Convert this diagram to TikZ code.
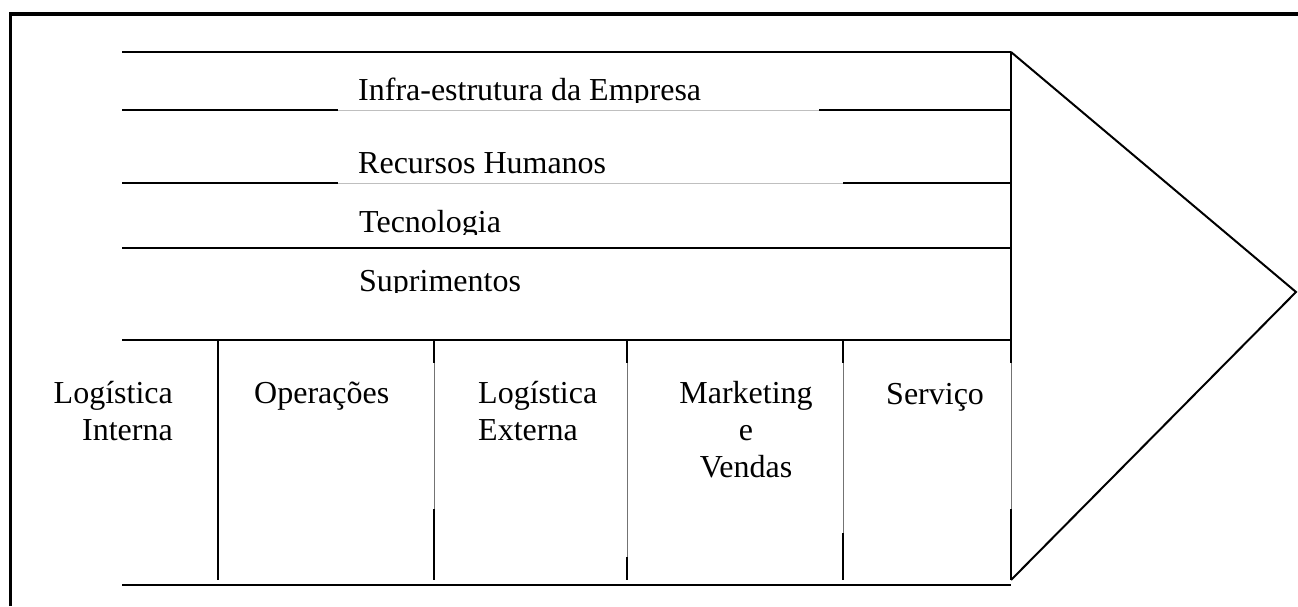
\documentclass[tikz,border=0pt]{standalone}
\usepackage{fontspec}
\setmainfont{Liberation Serif}
\begin{document}
\begin{tikzpicture}[x=1pt,y=-1pt,
  frame/.style={line width=3.5pt,black},
  dark/.style={line width=2pt,black},
  faint/.style={line width=1pt,black!25},
  vfaint/.style={line width=0.9pt,black!55},
  lbl/.style={inner sep=0pt,font=\fontsize{32}{37}\selectfont},
]
\useasboundingbox (0,0) rectangle (1298,606);
% outer frame (top and left visible)
\draw[frame] (10.5,606) -- (10.5,14) -- (1298,14);

% key points
\coordinate (TL) at (122,52);
\coordinate (TR) at (1011,52);
\coordinate (tip) at (1296,292);
\coordinate (BR) at (1011,580);

% horizontal lines
\draw[dark] (TL) -- (TR);
\draw[dark] (122,110) -- (338,110);
\draw[faint] (338,110.5) -- (819,110.5);
\draw[dark] (819,110) -- (1011,110);
\draw[dark] (122,183) -- (338,183);
\draw[faint] (338,183.5) -- (843,183.5);
\draw[dark] (843,183) -- (1011,183);
\draw[dark] (122,248) -- (1011,248);
\draw[dark] (122,340) -- (1011,340);
\draw[dark] (122,585) -- (1011,585);

% arrow head
\draw[dark,line join=miter] (TR) -- (tip) -- (BR);

% right vertical
\draw[dark] (TR) -- (1011,363);
\draw[vfaint] (1011,363) -- (1011,509);
\draw[dark] (1011,509) -- (BR);

% column dividers
\draw[dark] (218,340) -- (218,580);
\draw[dark] (434,340) -- (434,363);
\draw[vfaint] (434,363) -- (434,509);
\draw[dark] (434,509) -- (434,580);
\draw[dark] (627,340) -- (627,363);
\draw[vfaint] (627,363) -- (627,557);
\draw[dark] (627,557) -- (627,580);
\draw[dark] (843,340) -- (843,363);
\draw[vfaint] (843,363) -- (843,533);
\draw[dark] (843,533) -- (843,580);

% support activity labels (clipped just under the baseline)
\begin{scope}
  \clip (300,60) rectangle (900,102);
  \node[lbl,anchor=base west] (infra) at (358,100) {Infra-estrutura da Empresa};
\end{scope}
\begin{scope}
  \clip (300,130) rectangle (900,175);
  \node[lbl,anchor=base west] (rh) at (358,173) {Recursos Humanos};
\end{scope}
\begin{scope}
  \clip (300,190) rectangle (900,234);
  \node[lbl,anchor=base west] (tec) at (359,232) {Tecnologia};
\end{scope}
\begin{scope}
  \clip (300,250) rectangle (900,292.5);
  \node[lbl,anchor=base west] (sup) at (359,291) {Suprimentos};
\end{scope}

% primary activity labels
\node[lbl,anchor=base east] (li) at (173,403)
  {\begin{tabular}[t]{@{}r@{}}Logística\\Interna\end{tabular}};
\node[lbl,anchor=base west] (op) at (254,403) {Operações};
\node[lbl,anchor=base west] (le) at (478,403)
  {\begin{tabular}[t]{@{}l@{}}Logística\\Externa\end{tabular}};
\node[lbl,anchor=base] (mv) at (746,403)
  {\begin{tabular}[t]{@{}c@{}}Marketing\\e\\Vendas\end{tabular}};
\node[lbl,anchor=base west] (sv) at (886,404) {Serviço};
\end{tikzpicture}
\end{document}
